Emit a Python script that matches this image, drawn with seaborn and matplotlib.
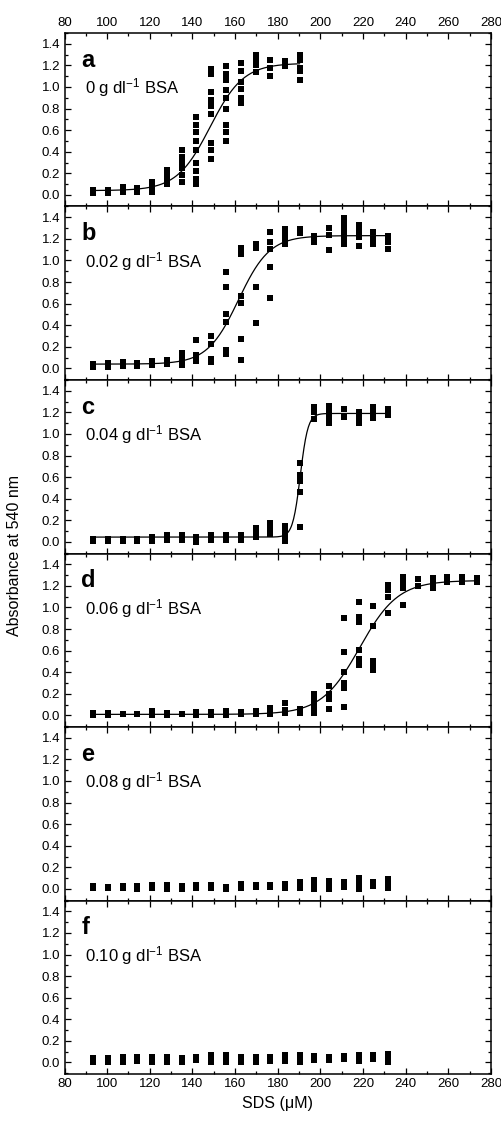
import numpy as np
import pandas as pd
import matplotlib
matplotlib.use('Agg')
import matplotlib.pyplot as plt
import seaborn as sns
from matplotlib.ticker import MultipleLocator

sns.set_theme(style="ticks")
plt.rcParams['font.family'] = ['Liberation Sans', 'DejaVu Sans']
plt.rcParams['mathtext.fontset'] = 'custom'
plt.rcParams['mathtext.rm'] = 'Liberation Sans'
plt.rcParams['mathtext.default'] = 'rm'
plt.rcParams['text.color'] = 'black'
plt.rcParams['axes.labelcolor'] = 'black'

# SDS concentrations (uM)
sds = [93.5, 100.4, 107.3, 114.2, 121.1, 128.1, 135.0, 141.9, 148.8, 155.7,
       162.6, 169.6, 176.5, 183.4, 190.3, 197.2, 204.1, 211.1, 218.0, 224.9,
       231.8, 238.7, 245.6, 252.6, 259.5, 266.4, 273.3]

# replicate absorbances at each SDS point
abs_a = [[0.02, 0.05], [0.02, 0.05], [0.03, 0.07], [0.03, 0.06],
         [0.03, 0.08, 0.12], [0.10, 0.15, 0.20, 0.23],
         [0.12, 0.18, 0.25, 0.30, 0.35, 0.42],
         [0.72, 0.65, 0.58, 0.50, 0.42, 0.30, 0.22, 0.15, 0.10],
         [1.17, 1.12, 0.95, 0.88, 0.82, 0.75, 0.48, 0.42, 0.33],
         [1.19, 1.12, 1.06, 0.97, 0.90, 0.80, 0.65, 0.58, 0.50],
         [1.22, 1.15, 1.05, 0.98, 0.90, 0.85],
         [1.30, 1.25, 1.20, 1.14], [1.25, 1.18, 1.10], [1.24, 1.19],
         [1.30, 1.25, 1.18, 1.15, 1.06]]
abs_b = [[0.01, 0.04], [0.01, 0.05], [0.02, 0.06], [0.02, 0.05], [0.03, 0.07],
         [0.04, 0.08], [0.03, 0.07, 0.10, 0.14], [0.26, 0.12, 0.07],
         [0.30, 0.23, 0.09, 0.06], [0.89, 0.75, 0.50, 0.43, 0.17, 0.13],
         [1.12, 1.06, 0.67, 0.61, 0.27, 0.08], [1.15, 1.12, 0.75, 0.42],
         [1.26, 1.17, 1.11, 0.94, 0.65], [1.29, 1.24, 1.18, 1.15], [1.29, 1.25],
         [1.23, 1.17], [1.30, 1.24, 1.10], [1.39, 1.35, 1.30, 1.25, 1.20, 1.15],
         [1.33, 1.27, 1.22, 1.13], [1.26, 1.20, 1.15], [1.23, 1.17, 1.11]]
abs_c = [[0.01, 0.03], [0.01, 0.03], [0.01, 0.03], [0.01, 0.03], [0.01, 0.05],
         [0.02, 0.06], [0.02, 0.06], [0.00, 0.05], [0.02, 0.06], [0.02, 0.06],
         [0.02, 0.06], [0.05, 0.09, 0.13], [0.07, 0.12, 0.18],
         [0.01, 0.06, 0.10, 0.15], [0.73, 0.62, 0.56, 0.46, 0.14],
         [1.25, 1.20, 1.14], [1.26, 1.20, 1.15, 1.10], [1.23, 1.16],
         [1.20, 1.15, 1.10], [1.25, 1.19, 1.15], [1.23, 1.18]]
abs_d = [[0.00, 0.02], [0.00, 0.02], [0.01], [0.01], [0.00, 0.04], [0.00, 0.02],
         [0.01], [0.00, 0.03], [0.00, 0.03], [0.00, 0.04], [0.01, 0.03],
         [0.01, 0.04], [0.01, 0.04, 0.07], [0.12, 0.05, 0.02], [0.02, 0.06],
         [0.02, 0.07, 0.12, 0.16, 0.20], [0.27, 0.20, 0.15, 0.06],
         [0.90, 0.59, 0.40, 0.30, 0.25, 0.08], [1.05, 0.91, 0.87, 0.61, 0.52, 0.47],
         [1.01, 0.83, 0.50, 0.46, 0.42], [1.21, 1.16, 1.10, 0.95],
         [1.28, 1.23, 1.18, 1.02], [1.26, 1.20], [1.27, 1.22, 1.18], [1.28, 1.24],
         [1.28, 1.24], [1.27, 1.24]]
abs_e = [[0.01, 0.025], [0.01, 0.02], [0.01, 0.03], [0.00, 0.03], [0.01, 0.035],
         [0.00, 0.035], [0.00, 0.03], [0.01, 0.035], [0.01, 0.035], [0.00, 0.02],
         [0.01, 0.05], [0.02, 0.04], [0.02, 0.04], [0.01, 0.05], [0.01, 0.06],
         [0.00, 0.04, 0.08], [0.00, 0.04, 0.07], [0.02, 0.06], [0.00, 0.05, 0.10],
         [0.03, 0.06], [0.01, 0.05, 0.09]]
abs_f = [[0.00, 0.04], [0.00, 0.04], [0.00, 0.05], [0.01, 0.05], [0.00, 0.05],
         [0.00, 0.05], [0.00, 0.04], [0.02, 0.05], [0.00, 0.04, 0.07],
         [0.00, 0.04, 0.07], [0.00, 0.05], [0.00, 0.05], [0.01, 0.05],
         [0.01, 0.04, 0.07], [0.00, 0.04, 0.07], [0.02, 0.06], [0.02, 0.05],
         [0.03, 0.06], [0.01, 0.04, 0.07], [0.03, 0.07], [0.00, 0.04, 0.08]]

letters = ['a', 'b', 'c', 'd', 'e', 'f']
bsa = ['0', '0.02', '0.04', '0.06', '0.08', '0.10']
panels = [abs_a, abs_b, abs_c, abs_d, abs_e, abs_f]

# Boltzmann fit parameters (A1, A2, x0, dx, x_end); None = no fit shown
fits = [(0.04, 1.22, 148.3, 7.8, 190.3),
        (0.04, 1.23, 161.6, 7.3, 231.8),
        (0.045, 1.19, 190.6, 1.8, 231.8),
        (0.01, 1.25, 218.5, 9.0, 273.3),
        None, None]

rows = []
for letter, reps in zip(letters, panels):
    for x, ys in zip(sds, reps):
        for y in ys:
            rows.append((letter, x, y))
df = pd.DataFrame(rows, columns=['panel', 'sds', 'absorbance'])

fig, axes = plt.subplots(6, 1, figsize=(5.02, 11.25), dpi=100, sharex=True)
fig.subplots_adjust(left=0.1285, right=0.978, top=0.9707, bottom=0.0453, hspace=0)

for ax, letter, conc, fit in zip(axes, letters, bsa, fits):
    sub = df[df['panel'] == letter]
    sns.scatterplot(data=sub, x='sds', y='absorbance', marker='s', s=19,
                    color='black', linewidth=0, ax=ax, legend=False, zorder=3)
    if fit is not None:
        a1, a2, x0, dx, xend = fit
        xs = np.linspace(sds[0], xend, 400)
        ys = a2 + (a1 - a2) / (1 + np.exp((xs - x0) / dx))
        sns.lineplot(x=xs, y=ys, color='black', linewidth=0.9, ax=ax, zorder=4)
    ax.set_xlim(80, 280)
    ax.set_ylim(-0.107, 1.5)
    ax.xaxis.set_major_locator(MultipleLocator(20))
    ax.xaxis.set_minor_locator(MultipleLocator(10))
    ax.yaxis.set_major_locator(MultipleLocator(0.2))
    ax.yaxis.set_minor_locator(MultipleLocator(0.1))
    ax.yaxis.set_major_formatter(matplotlib.ticker.FormatStrFormatter('%.1f'))
    ax.tick_params(which='both', direction='in', top=True, right=True,
                   labelsize=9.5, pad=3, color='black', labelcolor='black')
    ax.tick_params(which='major', length=4.5, width=0.9)
    ax.tick_params(which='minor', length=2.5, width=0.9)
    ax.tick_params(axis='x', labelbottom=False)
    for sp in ax.spines.values():
        sp.set_color('black')
        sp.set_linewidth(1.1)
    ax.set_xlabel('')
    ax.set_ylabel('')
    ax.text(0.039, 0.805, letter, transform=ax.transAxes, fontsize=17,
            fontweight='bold', va='baseline', ha='left')
    ax.text(0.048, 0.65, conc + r' g dl$^{-1}$ BSA', transform=ax.transAxes,
            fontsize=12, va='baseline', ha='left')

axes[0].tick_params(axis='x', labeltop=True)
axes[-1].tick_params(axis='x', labelbottom=True)
axes[-1].set_xlabel('SDS (μM)', fontsize=11.5, labelpad=4)
fig.text(0.028, 0.506, 'Absorbance at 540 nm', rotation=90, va='center',
         ha='center', fontsize=11.5)

fig.savefig('out.png', dpi=100, facecolor='white')
